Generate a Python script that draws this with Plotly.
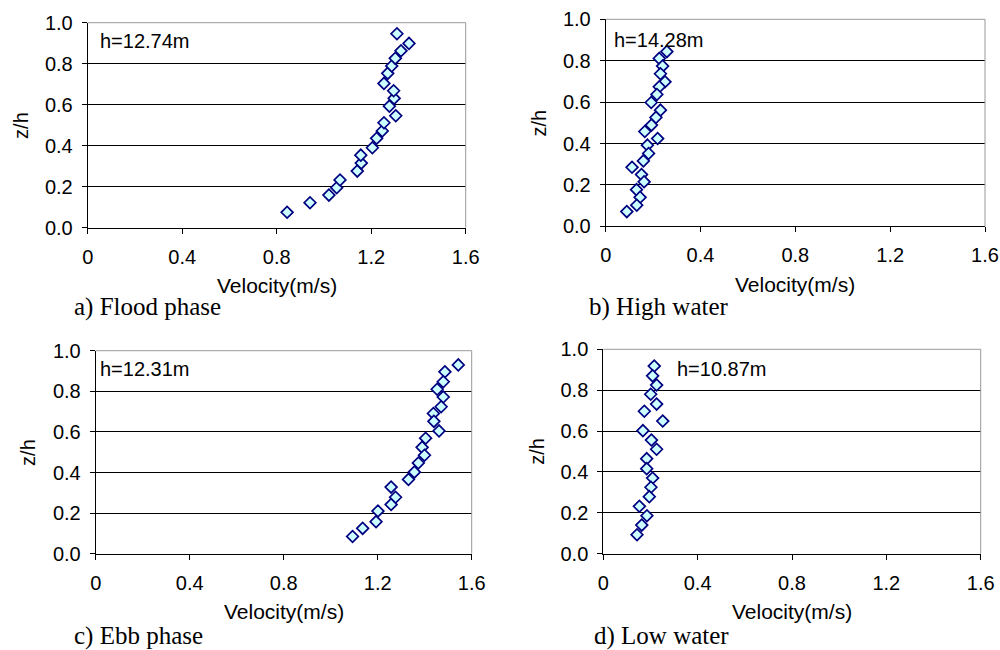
import plotly.graph_objects as go

# ---- data (velocity m/s, relative depth z/h) ----
flood_v = [0.844, 0.941, 1.021, 1.054, 1.068, 1.141, 1.158, 1.156, 1.205, 1.223, 1.247, 1.254,
           1.304, 1.277, 1.297, 1.295, 1.254, 1.270, 1.287, 1.302, 1.326, 1.360, 1.309]
flood_z = [0.075, 0.122, 0.159, 0.195, 0.233, 0.276, 0.315, 0.354, 0.390, 0.436, 0.472, 0.512,
           0.546, 0.593, 0.631, 0.668, 0.704, 0.753, 0.789, 0.826, 0.863, 0.899, 0.946]

high_v = [0.258, 0.226, 0.240, 0.231, 0.250, 0.226, 0.216, 0.192, 0.231, 0.212, 0.193, 0.165,
          0.219, 0.176, 0.181, 0.159, 0.111, 0.151, 0.162, 0.130, 0.145, 0.131, 0.089]
high_z = [0.844, 0.811, 0.774, 0.737, 0.698, 0.674, 0.637, 0.598, 0.561, 0.526, 0.489, 0.458,
          0.424, 0.392, 0.352, 0.316, 0.285, 0.250, 0.215, 0.177, 0.140, 0.102, 0.071]

ebb_v = [1.543, 1.486, 1.479, 1.453, 1.479, 1.470, 1.437, 1.439, 1.461, 1.404, 1.389, 1.399,
         1.373, 1.356, 1.331, 1.257, 1.276, 1.257, 1.201, 1.193, 1.136, 1.093]
ebb_z = [0.930, 0.896, 0.847, 0.810, 0.772, 0.724, 0.691, 0.652, 0.605, 0.569, 0.524, 0.485,
         0.447, 0.402, 0.366, 0.328, 0.278, 0.242, 0.210, 0.158, 0.125, 0.085]

low_v = [0.216, 0.209, 0.226, 0.201, 0.226, 0.174, 0.252, 0.168, 0.204, 0.226, 0.184, 0.184,
         0.209, 0.202, 0.195, 0.153, 0.185, 0.163, 0.143]
low_z = [0.918, 0.870, 0.825, 0.780, 0.732, 0.697, 0.649, 0.602, 0.556, 0.511, 0.465, 0.416,
         0.370, 0.325, 0.279, 0.232, 0.186, 0.140, 0.093]

depth_labels = ["h=12.74m", "h=14.28m", "h=12.31m", "h=10.87m"]
captions = ["a) Flood phase", "b) High water", "c) Ebb phase", "d) Low water"]
x_title = "Velocity(m/s)"
y_title = "z/h"

series = [(flood_v, flood_z), (high_v, high_z), (ebb_v, ebb_z), (low_v, low_z)]

W, H = 1000, 650
# plot-area pixel boxes: (left, right, top, bottom)
boxes = [(87.7, 465.7, 22.7, 227.7),
         (605.7, 985.0, 19.3, 226.3),
         (95.7, 471.7, 350.7, 553.7),
         (603.3, 980.7, 349.3, 553.7)]
label_pos = [(0.048, 0.912), (0.030, 0.900), (0.015, 0.908), (0.307, 0.902)]
caption_pos = [(73, 306.7), (588.3, 306.7), (73.3, 636), (593.3, 636)]

SANS = "Arial, Liberation Sans, sans-serif"
SERIF = "Book Antiqua, Palatino Linotype, Liberation Serif, serif"
FS = 20

fig = go.Figure()
layout = dict(width=W, height=H, margin=dict(l=0, r=0, t=0, b=0, autoexpand=False),
              paper_bgcolor="white", plot_bgcolor="white", showlegend=False)
annotations = []
shapes = []

for i, ((v, z), (l, r, t, b)) in enumerate(zip(series, boxes)):
    n = "" if i == 0 else str(i + 1)
    xa, ya = "x" + n, "y" + n
    fig.add_trace(go.Scatter(
        x=v, y=z, mode="markers", xaxis=xa, yaxis=ya,
        marker=dict(symbol="diamond", size=9, color="#CCFFFF",
                    line=dict(color="#000080", width=1.7)),
        cliponaxis=False))
    layout["xaxis" + n] = dict(
        domain=[l / W, r / W], anchor=ya, range=[0, 1.6], dtick=0.4, tick0=0,
        automargin=False,
        showgrid=False, zeroline=False, showline=True, linecolor="black", linewidth=1,
        ticks="outside", ticklen=5, tickcolor="black", tickwidth=1,
        tickfont=dict(family=SANS, size=FS, color="black"), ticklabelstandoff=6)
    layout["yaxis" + n] = dict(
        domain=[1 - b / H, 1 - t / H], anchor=xa, range=[0, 1.0], dtick=0.2, tick0=0,
        automargin=False,
        tickformat=".1f", showgrid=True, gridcolor="black", gridwidth=1,
        zeroline=False, showline=True, linecolor="black", linewidth=1,
        ticks="outside", ticklen=5, tickcolor="black", tickwidth=1,
        tickfont=dict(family=SANS, size=FS, color="black"), ticklabelstandoff=5)
    # gray frame on top and right
    shapes.append(dict(type="line", xref=xa + " domain", yref=ya + " domain",
                       x0=0, x1=1, y0=1, y1=1, line=dict(color="#999999", width=1), layer="above"))
    shapes.append(dict(type="line", xref=xa + " domain", yref=ya + " domain",
                       x0=1, x1=1, y0=0, y1=1, line=dict(color="#999999", width=1), layer="above"))
    # depth label inside plot
    lx, ly = label_pos[i]
    annotations.append(dict(x=lx, y=ly, xref=xa, yref=ya, text=depth_labels[i],
                            showarrow=False, xanchor="left", yanchor="middle", borderpad=0,
                            font=dict(family=SANS, size=FS, color="black")))
    # axis titles
    annotations.append(dict(x=(l + r) / 2 / W, y=1 - (b + 58) / H, xref="paper", yref="paper",
                            text=x_title, showarrow=False, xanchor="center", yanchor="middle",
                            font=dict(family=SANS, size=21, color="black")))
    annotations.append(dict(x=(l - 67) / W, y=1 - ((t + b) / 2) / H, xref="paper", yref="paper",
                            text=y_title, showarrow=False, textangle=-90,
                            xanchor="center", yanchor="middle",
                            font=dict(family=SANS, size=FS, color="black")))
    # caption
    cx, cy = caption_pos[i]
    annotations.append(dict(x=cx / W, y=1 - cy / H, xref="paper", yref="paper",
                            text=captions[i], showarrow=False, xanchor="left", yanchor="middle",
                            borderpad=0,
                            font=dict(family=SERIF, size=25, color="black")))

layout["annotations"] = annotations
layout["shapes"] = shapes
fig.update_layout(**layout)
fig.write_html("out.html")
